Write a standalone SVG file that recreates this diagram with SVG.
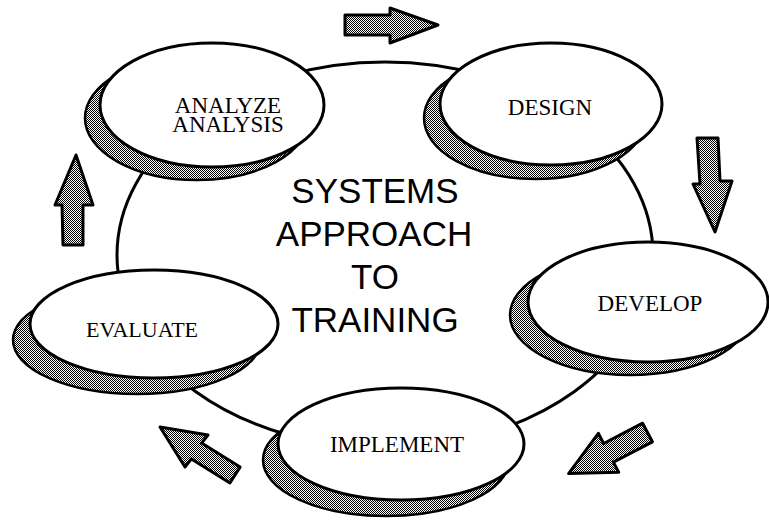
<svg xmlns="http://www.w3.org/2000/svg" width="769" height="523" viewBox="0 0 769 523">
<defs>
<pattern id="dither" width="2" height="2" patternUnits="userSpaceOnUse">
<rect width="2" height="2" fill="#fff"/>
<rect width="1" height="1" fill="#000"/>
<rect x="1" y="1" width="1" height="1" fill="#000"/>
</pattern>
<style>
.node{fill:#fff;stroke:#000;stroke-width:3}
.shadow{fill:url(#dither);stroke:#000;stroke-width:2.5}
.lbl{font-family:"Liberation Serif","Times New Roman",serif;font-size:23px;fill:#000;text-anchor:middle}
.title{font-family:"Liberation Sans",Arial,sans-serif;font-size:35px;fill:#000;text-anchor:middle}
.arrow{fill:url(#dither);stroke:#000;stroke-width:3;stroke-linejoin:round}
.ring{fill:none;stroke:#000;stroke-width:3}
</style>
</defs>
<rect width="769" height="523" fill="#fff"/>
<g id="connectors">
<ellipse class="ring" cx="385" cy="255" rx="268" ry="193"/>
<polygon class="arrow" points="345,15 390,15 390,8 438,25 390,43 390,35 345,35"/>
<polygon class="arrow" points="697,138 718,138 720,181 732,181 715,232 693,184 700,184"/>
<polygon class="arrow" points="642.6,423.2 652.4,441.8 613.4,462.1 618.7,472.3 568.6,473.6 598.3,433.3 603.6,443.5"/>
<polygon class="arrow" points="160,427 208,435 201.6,443.1 240.1,467.1 229.9,482.9 191.4,458.9 185,467"/>
<polygon class="arrow" points="76,155 93,205 83,205 83,245 63,245 62,205 55,205"/>
</g>
<g id="analyze">
<ellipse class="shadow" cx="197" cy="118" rx="112" ry="62"/>
<ellipse class="node" cx="212" cy="105" rx="112" ry="62"/>
<text class="lbl" x="228" y="113">ANALYZE</text>
<text class="lbl" x="228" y="132">ANALYSIS</text>
</g>
<g id="design">
<ellipse class="shadow" cx="535" cy="118" rx="111" ry="61"/>
<ellipse class="node" cx="551" cy="104" rx="111" ry="61"/>
<text class="lbl" x="550" y="115">DESIGN</text>
</g>
<g id="develop">
<ellipse class="shadow" cx="630" cy="315" rx="120" ry="60"/>
<ellipse class="node" cx="648" cy="302" rx="120" ry="60"/>
<text class="lbl" x="650" y="311">DEVELOP</text>
</g>
<g id="evaluate">
<ellipse class="shadow" cx="137" cy="340" rx="124" ry="54"/>
<ellipse class="node" cx="154" cy="324" rx="124" ry="54"/>
<text class="lbl" x="142" y="337" style="font-size:22px">EVALUATE</text>
</g>
<g id="implement">
<ellipse class="shadow" cx="386" cy="460" rx="123" ry="56"/>
<ellipse class="node" cx="401" cy="444" rx="123" ry="56"/>
<text class="lbl" x="397" y="452">IMPLEMENT</text>
</g>
<g id="title">
<text class="title" x="375" y="203">SYSTEMS</text>
<text class="title" x="374" y="246">APPROACH</text>
<text class="title" x="375" y="289">TO</text>
<text class="title" x="375" y="332">TRAINING</text>
</g>
</svg>
